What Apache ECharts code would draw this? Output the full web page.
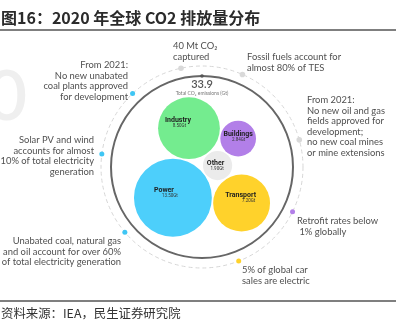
<!DOCTYPE html>
<html>
<head>
<meta charset="utf-8">
<script src="https://cdn.jsdelivr.net/npm/echarts@6/dist/echarts.min.js"></script>
<style>
  html, body { margin: 0; padding: 0; background: #fff; }
  #chart { width: 396px; height: 329px; }
</style>
</head>
<body>
<div id="chart"></div>
<script>
// ---- data ----
const titleText = '图16：2020 年全球 CO2 排放量分布';
const sourceText = '资料来源：IEA，民生证券研究院';
const sectors = ['Power', 'Industry', 'Other', 'Transport', 'Buildings'];
const emissionsGt = [13.5, 8.5, 1.9, 7.2, 2.84];
const totalLabel = 'Total CO₂ emissions (Gt)';
const noteTexts = [
  '40 Mt CO₂\ncaptured',
  'Fossil fuels account for\nalmost 80% of TES',
  'From 2021:\nNo new oil and gas\nfields approved for\ndevelopment;\nno new coal mines\nor mine extensions',
  'Retrofit rates below\n 1% globally',
  '5% of global car\nsales are electric',
  'Unabated coal, natural gas\nand oil account for over 60%\nof total electricity generation',
  'Solar PV and wind\naccounts for almost\n10% of total electricity\ngeneration',
  'From 2021:\nNo new unabated\ncoal plants approved\nfor development'
];

// ---- styling / layout ----
const sectorColors = ['#4dcffb', '#74ec8f', '#ebebeb', '#ffd22b', '#b27fe8'];
const labelOffsets = [[-9, -7, 6], [-11, -8, 1.5], [-2, -2, 1.5], [-1, -8, 8], [0, -4, 0.5]];
const RING_R = 91, DASH_R = 101;
const RADIUS_SCALE = 10.6, PAD = 1.5;
// dot on the dashed ring for each note: angle (deg, clockwise from 3 o'clock) and colour
const noteDots = [
  [-102, '#d9d9d9'], [-66.4, '#d9d9d9'], [-15.6, '#d9d9d9'], [26.3, '#b27fe8'],
  [68.7, '#ffd22b'], [139.8, '#3fc6f4'], [-172.6, '#3fc6f4'], [-133.4, '#3fc6f4']
];
// text box for each note: x, first-line centre y, alignment
const noteBoxes = [
  [173, 46, 'left'], [247, 57, 'left'], [307, 100, 'left'], [297, 221, 'left'],
  [242, 270, 'left'], [121, 241, 'right'], [94, 140, 'right'], [128, 65, 'right']
];
const NOTE_LH = 10.5;
const noteFont = 'Lato, "DejaVu Sans", sans-serif';

// ---- circle packing: each bubble touches two earlier ones ----
const radii = emissionsGt.map(v => Math.sqrt(v) * RADIUS_SCALE);
function touching(a, b, r, side) {
  const dx = b.x - a.x, dy = b.y - a.y, d = Math.hypot(dx, dy);
  const da = a.r + r + PAD, db = b.r + r + PAD;
  const along = (da * da - db * db + d * d) / (2 * d);
  const h = Math.sqrt(Math.max(0, da * da - along * along));
  const ux = dx / d, uy = dy / d;
  return { x: a.x + along * ux + side * h * -uy, y: a.y + along * uy + side * h * ux, r };
}
const circles = [];
circles[0] = { x: 0, y: 0, r: radii[0] };
const startAng = -77 * Math.PI / 180, dist01 = radii[0] + radii[1] + PAD;
circles[1] = { x: dist01 * Math.cos(startAng), y: dist01 * Math.sin(startAng), r: radii[1] };
circles[2] = touching(circles[0], circles[1], radii[2], 1);
circles[3] = touching(circles[0], circles[2], radii[3], 1);
circles[4] = touching(circles[1], circles[2], radii[4], -1);
// centre the cluster's bounding box on the ring
const minX = Math.min(...circles.map(c => c.x - c.r)), maxX = Math.max(...circles.map(c => c.x + c.r));
const minY = Math.min(...circles.map(c => c.y - c.r)), maxY = Math.max(...circles.map(c => c.y + c.r));
const shiftX = (minX + maxX) / 2, shiftY = (minY + maxY) / 2;
const bubbleData = circles.map((c, i) => [c.x - shiftX, c.y - shiftY, c.r, i]);

const total = emissionsGt.reduce((s, v) => s + v, 0);

const chart = echarts.init(document.getElementById('chart'), null, { renderer: 'canvas' });

const graphics = [
  { type: 'text', style: { text: '0', x: 27, y: 97, align: 'right', verticalAlign: 'middle',
      font: '600 70px Lato, sans-serif', fill: '#efefef' }, z: -10 },
  { type: 'text', style: { text: titleText, x: 1, y: 18, verticalAlign: 'middle',
      font: 'bold 16px "Noto Sans CJK SC", sans-serif', fill: '#2b2b2b' } },
  { type: 'line', shape: { x1: 0, y1: 30, x2: 396, y2: 30 }, style: { stroke: '#555', lineWidth: 1.6 } },
  { type: 'line', shape: { x1: 0, y1: 301, x2: 396, y2: 301 }, style: { stroke: '#555', lineWidth: 1.4 } },
  { type: 'text', style: { text: sourceText, x: 1, y: 313, verticalAlign: 'middle',
      font: '12.4px "Noto Sans CJK SC", sans-serif', fill: '#333' } }
];
noteTexts.forEach((t, i) => {
  const [x, y, align] = noteBoxes[i];
  graphics.push({ type: 'text', style: { text: t, x: x, y: y - NOTE_LH / 2, align: align,
      verticalAlign: 'top', lineHeight: NOTE_LH, font: '9.4px ' + noteFont, fill: '#505050' } });
});

chart.setOption({
  animation: false,
  grid: { left: 0, right: 0, top: 0, bottom: 0 },
  xAxis: { type: 'value', min: -202, max: 194, show: false },
  yAxis: { type: 'value', min: -167, max: 162, inverse: true, show: false },
  graphic: graphics,
  series: [
    {
      // dashed outer ring, solid ring and total label
      type: 'custom', clip: false, data: [[0, 0]],
      renderItem: (params, api) => {
        const c = api.coord([api.value(0), api.value(1)]);
        const rr = api.size([RING_R, 0])[0], dr = api.size([DASH_R, 0])[0];
        return { type: 'group', children: [
          { type: 'circle', shape: { cx: c[0], cy: c[1], r: dr },
            style: { fill: 'none', stroke: '#d6d6d6', lineWidth: 1, lineDash: [4, 3] } },
          { type: 'circle', shape: { cx: c[0], cy: c[1], r: rr },
            style: { fill: 'none', stroke: '#666', lineWidth: 2 } },
          { type: 'circle', shape: { cx: c[0], cy: c[1] - rr, r: 1.8 }, style: { fill: '#555' } },
          { type: 'text', style: { text: total.toFixed(1), x: c[0], y: c[1] - rr + 8.5,
              align: 'center', verticalAlign: 'middle', font: '600 11px Lato, sans-serif', fill: '#555' } },
          { type: 'text', style: { text: totalLabel, x: c[0], y: c[1] - rr + 17.5,
              align: 'center', verticalAlign: 'middle', font: '5px ' + noteFont, fill: '#777' } }
        ] };
      }
    },
    {
      // note markers on the dashed ring
      type: 'custom', clip: false,
      data: noteDots.map(d => [DASH_R * Math.cos(d[0] * Math.PI / 180), DASH_R * Math.sin(d[0] * Math.PI / 180)]),
      renderItem: (params, api) => {
        const p = api.coord([api.value(0), api.value(1)]);
        const col = noteDots[params.dataIndex][1];
        return { type: 'circle', shape: { cx: p[0], cy: p[1], r: col === '#d9d9d9' ? 2.8 : 2.5 },
          style: { fill: col } };
      }
    },
    {
      // sector bubbles, area proportional to emissions
      type: 'custom', clip: false, data: bubbleData,
      renderItem: (params, api) => {
        const i = api.value(3);
        const p = api.coord([api.value(0), api.value(1)]);
        const r = api.size([api.value(2), 0])[0];
        const off = labelOffsets[i];
        return { type: 'group', children: [
          { type: 'circle', shape: { cx: p[0], cy: p[1], r: r }, style: { fill: sectorColors[i] } },
          { type: 'text', style: { text: sectors[i], x: p[0] + off[0], y: p[1] + off[1],
              align: 'center', verticalAlign: 'middle', font: 'bold 7px Roboto, sans-serif', fill: '#1e1e1e' } },
          { type: 'text', style: { text: emissionsGt[i].toFixed(2) + 'Gt', x: p[0] + off[0] + off[2], y: p[1] + off[1] + 5.5,
              align: 'center', verticalAlign: 'middle', font: '4.5px Roboto, sans-serif', fill: '#333' } }
        ] };
      }
    }
  ]
});
</script>
</body>
</html>
